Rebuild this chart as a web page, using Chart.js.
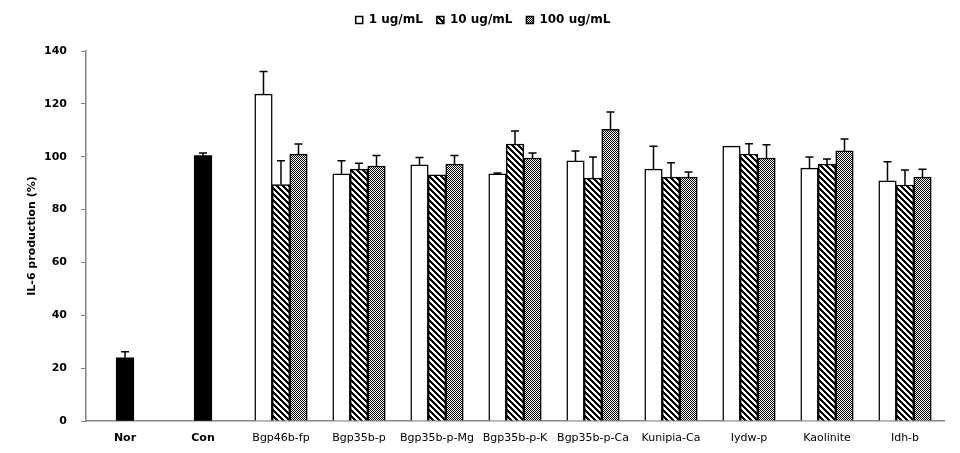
<!DOCTYPE html>
<html>
<head>
<meta charset="utf-8">
<script src="https://cdn.jsdelivr.net/npm/chart.js@4/dist/chart.umd.min.js"></script>
<style>
  body { margin: 0; background: #fff; }
  #wrap { width: 960px; height: 453px; }
</style>
</head>
<body>
<div id="wrap"><canvas id="chart" width="960" height="453"></canvas></div>
<script>
const categories = ['Nor', 'Con', 'Bgp46b-fp', 'Bgp35b-p', 'Bgp35b-p-Mg', 'Bgp35b-p-K', 'Bgp35b-p-Ca', 'Kunipia-Ca', 'Iydw-p', 'Kaolinite', 'Idh-b'];
const seriesNames = ['1 ug/mL', '10 ug/mL', '100 ug/mL'];

const controlVals = [23.9, 100.4, null, null, null, null, null, null, null, null, null];
const controlErr  = [2.3, 1.0, 0, 0, 0, 0, 0, 0, 0, 0, 0];

const dose1    = [null, null, 123.7, 93.5, 96.9, 93.5, 98.4, 95.3, 104.0, 95.7, 90.9];
const dose1Err = [0, 0, 8.5, 5.0, 2.8, 0.3, 3.8, 8.7, 0, 4.2, 7.2];

const dose10    = [null, null, 89.5, 95.3, 93.1, 104.8, 91.9, 92.3, 101.0, 97.2, 89.3];
const dose10Err = [0, 0, 9.0, 2.2, 0, 4.9, 8.0, 5.4, 3.9, 1.9, 5.7];

const dose100    = [null, null, 101.0, 96.5, 97.2, 99.5, 110.4, 92.3, 99.5, 102.2, 92.3];
const dose100Err = [0, 0, 3.8, 4.0, 3.3, 1.9, 6.5, 1.9, 5.0, 4.5, 3.0];

const yTicks = [0, 20, 40, 60, 80, 100, 120, 140];

// fill patterns like the excel ones
function makePattern(size, isBlack) {
  const c = document.createElement('canvas');
  c.width = size; c.height = size;
  const g = c.getContext('2d');
  g.fillStyle = '#fff';
  g.fillRect(0, 0, size, size);
  g.fillStyle = '#000';
  for (let y = 0; y < size; y++) {
    for (let x = 0; x < size; x++) {
      if (isBlack(x, y)) g.fillRect(x, y, 1, 1);
    }
  }
  return g.createPattern(c, 'repeat');
}
const hatch = makePattern(6, (x, y) => ((x - y + 60) % 6) < 3);
const dots = makePattern(2, (x, y) => (x + y) % 2 === 0);

const errorBars = {
  id: 'errorBars',
  afterDatasetsDraw(chart) {
    const ctx = chart.ctx;
    const yScale = chart.scales.y;
    ctx.save();
    ctx.strokeStyle = '#000';
    ctx.lineWidth = 1.5;
    chart.data.datasets.forEach((ds, di) => {
      const meta = chart.getDatasetMeta(di);
      meta.data.forEach((bar, i) => {
        const v = ds.data[i];
        const e = ds.errors[i];
        if (v === null || !e) return;
        const yTop = yScale.getPixelForValue(v + e);
        ctx.beginPath();
        ctx.moveTo(bar.x, bar.y);
        ctx.lineTo(bar.x, yTop);
        ctx.moveTo(bar.x - 4, yTop);
        ctx.lineTo(bar.x + 4, yTop);
        ctx.stroke();
      });
    });
    ctx.restore();
  }
};

// extra gap under the legend
const legendGap = {
  id: 'legendGap',
  beforeInit(chart) {
    const fit = chart.legend.fit;
    chart.legend.fit = function () {
      fit.call(this);
      this.height += 15;
    };
  }
};

const ctx = document.getElementById('chart').getContext('2d');
new Chart(ctx, {
  type: 'bar',
  data: {
    labels: categories,
    datasets: [
      { label: 'control', data: controlVals, errors: controlErr, backgroundColor: '#000', borderColor: '#000', borderWidth: 0 },
      { label: seriesNames[0], data: dose1, errors: dose1Err, backgroundColor: '#fff', borderColor: '#000', borderWidth: 1.5 },
      { label: seriesNames[1], data: dose10, errors: dose10Err, backgroundColor: hatch, borderColor: '#000', borderWidth: 1.5 },
      { label: seriesNames[2], data: dose100, errors: dose100Err, backgroundColor: dots, borderColor: '#000', borderWidth: 1.5 }
    ]
  },
  options: {
    responsive: false,
    animation: false,
    skipNull: true,
    barThickness: 17.5,
    layout: { padding: { left: 22, right: 16, top: 0, bottom: 0 } },
    plugins: {
      legend: {
        position: 'top',
        labels: {
          filter: item => item.datasetIndex > 0,
          boxWidth: 7,
          boxHeight: 7,
          padding: 14,
          color: '#000',
          font: { family: 'DejaVu Sans', size: 12, weight: 'bold' }
        }
      },
      tooltip: { enabled: false }
    },
    scales: {
      x: {
        grid: { display: false, drawTicks: false },
        border: { color: '#868686', width: 1.5 },
        ticks: {
          color: '#000',
          padding: 11,
          maxRotation: 0,
          autoSkip: false,
          font: c => ({ family: 'DejaVu Sans', size: 11, weight: c.index < 2 ? 'bold' : 'normal' })
        },
        afterFit: s => { s.height = 32; }
      },
      y: {
        min: 0,
        max: 140,
        afterBuildTicks: s => { s.ticks = yTicks.map(v => ({ value: v })); },
        grid: { drawOnChartArea: false, tickLength: 5, color: '#868686' },
        border: { color: '#868686', width: 1.5 },
        ticks: {
          color: '#000',
          padding: 14,
          font: { family: 'DejaVu Sans', size: 11, weight: 'bold' }
        },
        title: {
          display: true,
          text: 'IL-6 production (%)',
          color: '#000',
          font: { family: 'DejaVu Sans', size: 11, weight: 'bold' }
        },
        afterFit: s => { s.width = 64; }
      }
    }
  },
  plugins: [errorBars, legendGap]
});
</script>
</body>
</html>
